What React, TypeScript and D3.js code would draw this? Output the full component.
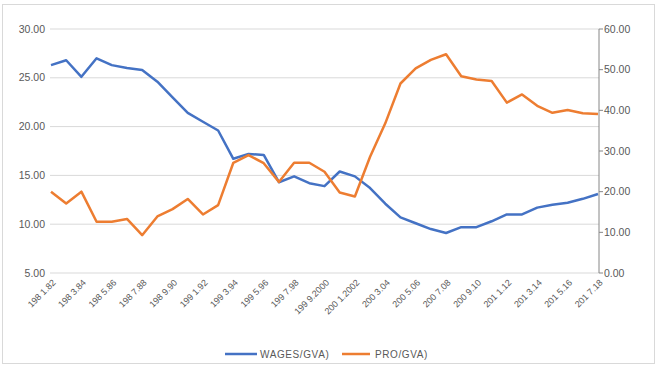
import * as d3 from 'd3';
import React from 'react';

// years on the x axis (one point per year)
const years = [
	'1981-82', '1982-83', '1983-84', '1984-85', '1985-86', '1986-87', '1987-88', '1988-89',
	'1989-90', '1990-91', '1991-92', '1992-93', '1993-94', '1994-95', '1995-96', '1996-97',
	'1997-98', '1998-99', '1999-2000', '2000-01', '2001-2002', '2002-03', '2003-04', '2004-05',
	'2005-06', '2006-07', '2007-08', '2008-09', '2009-10', '2010-11', '2011-12', '2012-13',
	'2013-14', '2014-15', '2015-16', '2016-17', '2017-18',
];

// labels as they show under every other point
const tickLabels = [
	'198 1.82', '198 3.84', '198 5.86', '198 7.88', '198 9.90', '199 1.92', '199 3.94',
	'199 5.96', '199 7.98', '199 9.2000', '200 1.2002', '200 3.04', '200 5.06', '200 7.08',
	'200 9.10', '201 1.12', '201 3.14', '201 5.16', '201 7.18',
];

const wages = [
	26.3, 26.8, 25.1, 27.0, 26.3, 26.0, 25.8, 24.6, 23.0, 21.4, 20.5, 19.6, 16.7, 17.2, 17.1,
	14.3, 14.9, 14.2, 13.9, 15.4, 14.9, 13.7, 12.1, 10.7, 10.1, 9.5, 9.1, 9.7, 9.7, 10.3,
	11.0, 11.0, 11.7, 12.0, 12.2, 12.6, 13.1,
];

const pro = [
	20.0, 17.1, 20.0, 12.6, 12.6, 13.3, 9.3, 13.9, 15.7, 18.2, 14.4, 16.7, 27.1, 29.0, 27.0,
	22.4, 27.1, 27.1, 24.9, 19.8, 18.8, 28.6, 36.8, 46.6, 50.3, 52.4, 53.8, 48.4, 47.6, 47.2,
	41.9, 43.9, 41.1, 39.4, 40.1, 39.3, 39.1,
];

const leftTicks = [5, 10, 15, 20, 25, 30];
const rightTicks = [0, 10, 20, 30, 40, 50, 60];

const W = 662;
const H = 373;
const margin = { top: 29, right: 64, bottom: 100, left: 51 };
const font = '"Liberation Sans", Arial, sans-serif';
const textColor = '#595959';

const App = () => {
	const x = d3.scaleLinear().domain([0, years.length - 1]).range([margin.left, W - margin.right]);
	const yLeft = d3.scaleLinear().domain([5, 30]).range([H - margin.bottom, margin.top]);
	const yRight = d3.scaleLinear().domain([0, 60]).range([H - margin.bottom, margin.top]);

	const wagesLine = d3.line<number>().x((_, i) => x(i)).y((d) => yLeft(d));
	const proLine = d3.line<number>().x((_, i) => x(i)).y((d) => yRight(d));

	const axisX = W - margin.right + 1;

	return (
		<svg width={W} height={H} style={{ position: 'absolute', left: 0, top: 0, background: '#fff' }}>
			<rect x={2.5} y={4.5} width={652} height={359} fill="#fff" stroke="#d9d9d9" />

			{/* gridlines + left labels */}
			{leftTicks.map((t) => (
				<g key={t}>
					<line x1={margin.left - 1} x2={axisX} y1={yLeft(t)} y2={yLeft(t)} stroke="#d9d9d9" strokeWidth={1} />
					<text x={45} y={yLeft(t)} dy="0.35em" textAnchor="end" fontSize={10.5} fontFamily={font} fill={textColor}>
						{t.toFixed(2)}
					</text>
				</g>
			))}

			{/* right axis */}
			<line x1={axisX} x2={axisX} y1={yRight(60)} y2={yRight(0)} stroke="#868686" strokeWidth={1} />
			{rightTicks.map((t) => (
				<g key={t}>
					<line x1={axisX} x2={axisX + 4} y1={yRight(t)} y2={yRight(t)} stroke="#868686" />
					<text x={axisX + 5} y={yRight(t)} dy="0.35em" fontSize={10.5} fontFamily={font} fill={textColor}>
						{t.toFixed(2)}
					</text>
				</g>
			))}

			{/* x labels */}
			{tickLabels.map((lab, k) => {
				const px = x(k * 2) + 3;
				const py = H - margin.bottom + 8;
				return (
					<text key={lab} transform={`translate(${px},${py}) rotate(-45)`} textAnchor="end" dy="0.35em"
						fontSize={9} fontFamily={font} fill={textColor}>
						{lab}
					</text>
				);
			})}

			<path d={wagesLine(wages) ?? ''} fill="none" stroke="#4472C4" strokeWidth={2.5} strokeLinejoin="round" />
			<path d={proLine(pro) ?? ''} fill="none" stroke="#ED7D31" strokeWidth={2.5} strokeLinejoin="round" />

			{/* legend */}
			<line x1={225} x2={257} y1={354} y2={354} stroke="#4472C4" strokeWidth={2.5} />
			<text x={260} y={354} dy="0.35em" fontSize={10} letterSpacing={0.6} fontFamily={font} fill={textColor}>WAGES/GVA)</text>
			<line x1={342} x2={370} y1={354} y2={354} stroke="#ED7D31" strokeWidth={2.5} />
			<text x={375} y={354} dy="0.35em" fontSize={10} letterSpacing={0.6} fontFamily={font} fill={textColor}>PRO/GVA)</text>
		</svg>
	);
};

export default App;
